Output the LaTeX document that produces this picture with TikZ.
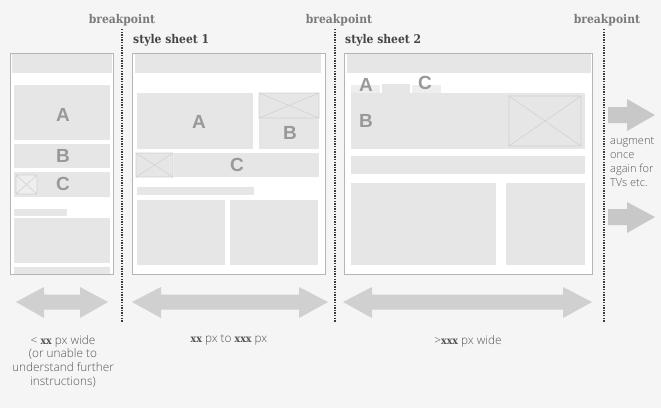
\documentclass[tikz,border=0pt]{standalone}
\usepackage{fontspec}
\setmainfont{Open Sans Light}
\newfontfamily\slab{DejaVu Serif Condensed}
\newfontfamily\arialf{Liberation Sans}
\definecolor{bg}{HTML}{F5F5F5}
\definecolor{frameline}{HTML}{B5B5B5}
\definecolor{blk}{HTML}{E6E6E6}
\definecolor{blklight}{HTML}{EEEEEE}
\definecolor{imgline}{HTML}{D2D2D2}
\definecolor{letter}{HTML}{999999}
\definecolor{arrowc}{HTML}{D0D0D0}
\definecolor{arrowr}{HTML}{C8C8C8}
\definecolor{bpc}{HTML}{7A7A7A}
\definecolor{ssc}{HTML}{444444}
\definecolor{txt}{HTML}{555555}
\definecolor{dotc}{HTML}{3A3A3A}
\tikzset{
  frame/.style={draw=frameline, fill=white, line width=1pt},
  imgbox/.style={draw=imgline, fill=blk, line width=0.6pt},
  letterlbl/.style={text=letter, font=\arialf\bfseries\fontsize{19}{19}\selectfont, inner sep=0pt},
  bplbl/.style={text=bpc, font=\slab\bfseries\fontsize{12}{12}\selectfont, inner sep=0pt},
  sslbl/.style={text=ssc, font=\slab\bfseries\fontsize{12}{12}\selectfont, inner sep=0pt, anchor=west},
  bptline/.style={draw=dotc, line width=1.3pt, dash pattern=on 1.3pt off 1.3pt},
  caption/.style={text=txt, font=\fontsize{11.8}{13.8}\selectfont, align=center, inner sep=0pt},
  side/.style={text=txt, font=\fontsize{11}{14}\selectfont, align=left, inner sep=0pt, anchor=north west},
}
\newcommand{\bx}[1]{{\slab\bfseries\fontsize{10.5}{10.5}\selectfont #1}}
\begin{document}
\begin{tikzpicture}[x=1pt,y=-1pt]
\fill[bg] (0,0) rectangle (661,408);
\useasboundingbox (0,0) rectangle (661,408);

% breakpoints
\node[bplbl] (bp1) at (122,20) {breakpoint};
\node[bplbl] (bp2) at (339,20) {breakpoint};
\node[bplbl] (bp3) at (607,20) {breakpoint};
\coordinate (d1t) at (122,29); \coordinate (d1b) at (122,322);
\coordinate (d2t) at (335,29); \coordinate (d2b) at (335,322);
\coordinate (d3t) at (604,29); \coordinate (d3b) at (604,322);
\draw[bptline] (d1t) -- (d1b);
\draw[bptline] (d2t) -- (d2b);
\draw[bptline] (d3t) -- (d3b);

\node[sslbl] (ss1) at (133,40) {style sheet 1};
\node[sslbl] (ss2) at (345,40) {style sheet 2};

% ---------- frame 1 (small) ----------
\draw[frame] (10.5,53.5) rectangle (113.5,274.5);
\fill[blk] (12,54) rectangle (112,73);
\fill[blk] (14,85) rectangle (110,140);
\fill[blk] (14,144) rectangle (110,168);
\fill[blk] (14,172) rectangle (110,197);
\draw[imgbox, fill=blklight] (16,175) rectangle (37,194) (16,175) -- (37,194) (16,194) -- (37,175);
\fill[blk] (14,209) rectangle (67,216);
\fill[blk] (14,218) rectangle (110,263);
\fill[blk] (14,267) rectangle (110,274);
\node[letterlbl] (a1) at (63,115) {A};
\node[letterlbl] (b1) at (63,156) {B};
\node[letterlbl] (c1) at (63,184) {C};

% ---------- frame 2 (medium) ----------
\draw[frame] (132.5,53.5) rectangle (325.5,274.5);
\fill[blk] (135,54) rectangle (321,73);
\fill[blk] (137,93) rectangle (253,149);
\fill[blk] (259,93) rectangle (319,149);
\draw[imgbox] (259,93) rectangle (319,118) (259,93) -- (319,118) (259,118) -- (319,93);
\fill[blk] (174,153) rectangle (319,177);
\draw[imgbox] (136,153) rectangle (173,177) (136,153) -- (173,177) (136,177) -- (173,153);
\fill[blk] (137,187) rectangle (254,195);
\fill[blk] (137,200) rectangle (225,265);
\fill[blk] (230,200) rectangle (318,265);
\node[letterlbl] (a2) at (199,122) {A};
\node[letterlbl] (b2) at (290,133) {B};
\node[letterlbl] (c2) at (237,165) {C};

% ---------- frame 3 (large) ----------
\draw[frame] (344.5,53.5) rectangle (592.5,274.5);
\fill[blk] (347,54) rectangle (591,73);
\fill[blklight] (351,85) rectangle (380,93);
\fill[blk] (382,84) rectangle (410,93);
\fill[blklight] (412,85) rectangle (441,93);
\fill[blk] (351,93) rectangle (585,149);
\draw[imgbox] (509,96) rectangle (581,146) (509,96) -- (581,146) (509,146) -- (581,96);
\fill[blk] (351,156) rectangle (585,174);
\fill[blk] (351,183) rectangle (496,265);
\fill[blk] (506,183) rectangle (585,265);
\node[letterlbl] (a3) at (366,85) {A};
\node[letterlbl] (c3) at (425,83) {C};
\node[letterlbl] (b3) at (366,121) {B};

% ---------- double arrows ----------
\fill[arrowc] (16,302) -- (44,287) -- (44,294.5) -- (80,294.5) -- (80,287) -- (108,302) -- (80,318) -- (80,309.5) -- (44,309.5) -- (44,318) -- cycle;
\fill[arrowc] (132,302) -- (161,287) -- (161,294.5) -- (299,294.5) -- (299,287) -- (328,302) -- (299,318) -- (299,309.5) -- (161,309.5) -- (161,318) -- cycle;
\fill[arrowc] (343,302) -- (372,287) -- (372,294.5) -- (563,294.5) -- (563,287) -- (592,302) -- (563,318) -- (563,309.5) -- (372,309.5) -- (372,318) -- cycle;

% ---------- right arrows ----------
\fill[arrowr] (608,107) -- (627,107) -- (627,99) -- (655,115) -- (627,131) -- (627,123) -- (608,123) -- cycle;
\fill[arrowr] (608,209) -- (627,209) -- (627,202) -- (655,217) -- (627,233) -- (627,225) -- (608,225) -- cycle;

\node[side] (aug) at (610,137) {augment\\once\\again for\\TVs etc.};

% ---------- captions ----------
\node[caption, anchor=north] (cap1) at (63,335) {< \bx{xx} px wide\\(or unable to\\understand further\\instructions)};
\node[caption, anchor=north] (cap2) at (229,335) {\bx{xx} px to \bx{xxx} px};
\node[caption, anchor=north] (cap3) at (468,335) {>\bx{xxx} px wide};
\end{tikzpicture}
\end{document}
